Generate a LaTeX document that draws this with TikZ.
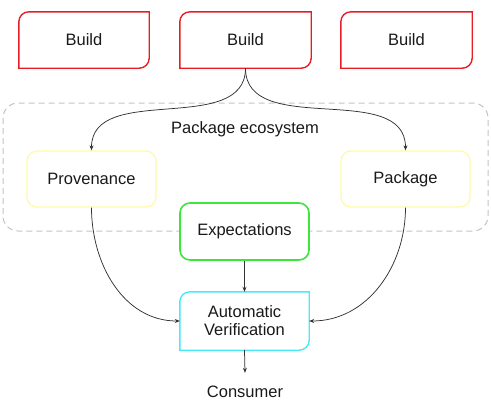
\documentclass[tikz,border=0pt]{standalone}
\usepackage{fontspec}
\setmainfont{Liberation Sans}
\usetikzlibrary{calc,arrows.meta}
\definecolor{bred}{RGB}{228,30,36}
\definecolor{byel}{RGB}{255,250,170}
\definecolor{bgrn}{RGB}{60,230,60}
\definecolor{bcyn}{RGB}{70,235,250}
\definecolor{bgry}{RGB}{195,195,195}
\definecolor{edgec}{RGB}{50,50,50}
\definecolor{txtc}{RGB}{25,25,25}
\newcommand\cutbox[3]{% node, style, radius
  \draw[#2] ($(#1.north west)+(0,-#3)$) .. controls ($(#1.north west)+(0,-0.45*#3)$) and ($(#1.north west)+(0.45*#3,0)$) .. ($(#1.north west)+(#3,0)$)
    -- (#1.north east) -- ($(#1.south east)+(0,#3)$)
    .. controls ($(#1.south east)+(0,0.45*#3)$) and ($(#1.south east)+(-0.45*#3,0)$) .. ($(#1.south east)+(-#3,0)$)
    -- (#1.south west) -- cycle;}
\tikzset{
  box/.style={minimum width=130pt, minimum height=56pt, inner sep=0pt, align=center, text=txtc, font=\fontsize{16.5}{19}\selectfont},
  redline/.style={draw=bred, line width=1.4pt},
  cyanline/.style={draw=bcyn, line width=1.4pt},
  yelbox/.style={box, draw=byel, line width=1.3pt, rounded corners=10pt, fill=white},
  grnbox/.style={box, draw=bgrn, line width=1.6pt, rounded corners=10pt, fill=white},
  conn/.style={draw=edgec, line width=0.75pt, -{Stealth[length=5pt,width=4pt]}},
}
\begin{document}
\begin{tikzpicture}[x=1pt,y=1pt]
\useasboundingbox (0,0) rectangle (491,-405);
% container
\draw[bgry, line width=1pt, dash pattern=on 6pt off 4pt, rounded corners=15pt] (3,-103) rectangle (488,-231);
\node[box, minimum width=0pt, minimum height=0pt] (eco) at (245,-129) {Package ecosystem};
% builds
\node[box] (b1) at (84,-40) {Build};
\node[box, minimum width=131pt] (b2) at (245.5,-40) {Build};
\node[box, minimum width=131pt] (b3) at (406.5,-40) {Build};
\cutbox{b1}{redline}{10}
\cutbox{b2}{redline}{10}
\cutbox{b3}{redline}{10}
% ecosystem members
\node[yelbox, minimum width=129pt] (prov) at (91.5,-179) {Provenance};
\node[yelbox, minimum width=129pt] (pkg) at (405.5,-179) {Package};
\node[grnbox, minimum width=129pt, minimum height=57pt] (exp) at (244.5,-231.5) {Expectations};
\node[box, minimum width=129pt, minimum height=58pt, fill=white] (av) at (244.5,-321) {Automatic\\[-1pt]Verification};
\cutbox{av}{cyanline}{10}
\node[box, minimum width=0pt, minimum height=38pt] (cons) at (245,-392) {Consumer};
% connectors
\draw[conn] (b2.south) to[out=-90,in=90] (prov.north);
\draw[conn] (b2.south) to[out=-90,in=90] (pkg.north);
\draw[conn] (prov.south) to[out=-90,in=180] (av.west);
\draw[conn] (pkg.south) to[out=-90,in=0] (av.east);
\draw[conn] (exp.south) -- (av.north);
\draw[conn] (av.south) -- (cons.north);
\end{tikzpicture}
\end{document}
